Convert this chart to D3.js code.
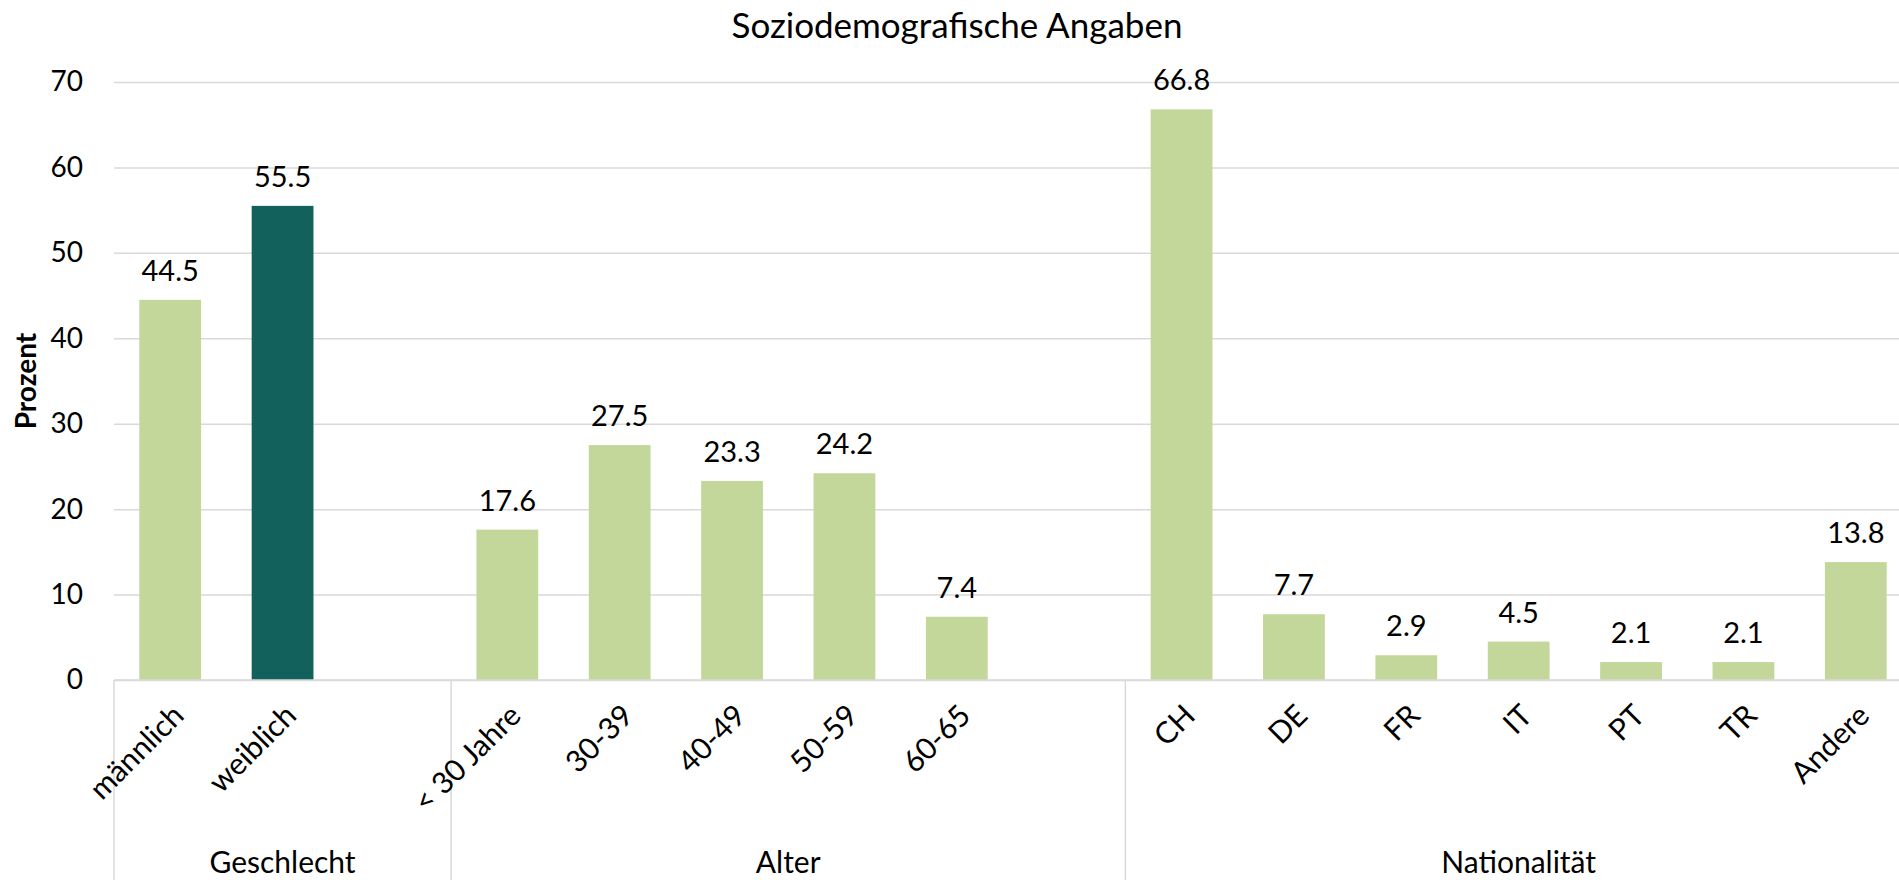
<!DOCTYPE html>
<html>
<head>
<meta charset="utf-8">
<script src="https://cdn.jsdelivr.net/npm/d3@7"></script>
<style>
  html, body { margin: 0; padding: 0; background: #ffffff; }
  svg { display: block; font-family: Lato, "Open Sans", sans-serif; }
</style>
</head>
<body>
<svg id="chart" width="1899" height="880"></svg>
<script>
// ---- data ----
const chartTitle = "Soziodemografische Angaben";
const yAxisTitle = "Prozent";
const categories = ["männlich", "weiblich", "", "< 30 Jahre", "30-39", "40-49", "50-59", "60-65", "", "CH", "DE", "FR", "IT", "PT", "TR", "Andere"];
const values = [44.5, 55.5, null, 17.6, 27.5, 23.3, 24.2, 7.4, null, 66.8, 7.7, 2.9, 4.5, 2.1, 2.1, 13.8];
const groupNames = ["Geschlecht", "Alter", "Nationalität"];
const groupSizes = [3, 6, 7];
const yTicks = [0, 10, 20, 30, 40, 50, 60, 70];
const highlighted = ["weiblich"];

// ---- style ----
const colLight = "#c4d79b";
const colDark = "#13615c";
const gridCol = "#d9d9d9";

const svg = d3.select("#chart");
const mLeft = 114, mRight = 1912, mTop = 82, mBottom = 680;

const x = d3.scaleBand()
  .domain(d3.range(categories.length))
  .range([mLeft, mRight])
  .paddingInner(0.45)
  .paddingOuter(0.225);

const y = d3.scaleLinear().domain([0, 70]).range([mBottom, mTop]);

// gridlines
const grid = svg.append("g")
  .attr("transform", `translate(${mLeft},0)`)
  .call(d3.axisLeft(y).tickValues(yTicks).tickSize(-(mRight - mLeft)).tickFormat(""));
grid.select(".domain").remove();
grid.selectAll(".tick line").attr("stroke", gridCol).attr("stroke-width", 1.5);

// y tick labels
const yAx = svg.append("g")
  .attr("transform", `translate(${mLeft},0)`)
  .call(d3.axisLeft(y).tickValues(yTicks).tickSize(0).tickPadding(31).tickFormat(d3.format("d")));
yAx.select(".domain").remove();
yAx.selectAll("text")
  .attr("font-family", "Lato, sans-serif")
  .attr("font-size", 28)
  .attr("fill", "#000")
  .attr("dy", "0.32em");

// bars
const idx = d3.range(categories.length).filter(i => values[i] !== null);
svg.append("g").selectAll("rect")
  .data(idx)
  .join("rect")
  .attr("x", i => x(i))
  .attr("width", x.bandwidth())
  .attr("y", i => y(values[i]))
  .attr("height", i => y(0) - y(values[i]))
  .attr("fill", i => highlighted.includes(categories[i]) ? colDark : colLight);

// data labels
svg.append("g").selectAll("text")
  .data(idx)
  .join("text")
  .attr("x", i => x(i) + x.bandwidth() / 2)
  .attr("y", i => y(values[i]) - 19)
  .attr("text-anchor", "middle")
  .attr("font-size", 29)
  .attr("fill", "#000")
  .text(i => d3.format(".1f")(values[i]));

// x axis baseline
svg.append("line")
  .attr("x1", mLeft).attr("x2", mRight)
  .attr("y1", mBottom).attr("y2", mBottom)
  .attr("stroke", gridCol).attr("stroke-width", 1.5);

// group dividers
let cum = 0;
const bounds = [0];
groupSizes.forEach(s => { cum += s; bounds.push(cum); });
const step = x.step();
svg.append("g").selectAll("line")
  .data(bounds)
  .join("line")
  .attr("x1", b => mLeft + b * step)
  .attr("x2", b => mLeft + b * step)
  .attr("y1", mBottom)
  .attr("y2", 880)
  .attr("stroke", gridCol)
  .attr("stroke-width", 1.5);

// category labels
svg.append("g").selectAll("text")
  .data(d3.range(categories.length).filter(i => categories[i] !== ""))
  .join("text")
  .attr("transform", i => `translate(${x(i) + x.bandwidth() / 2 + 8},${mBottom + 30}) rotate(-45)`)
  .attr("text-anchor", "end")
  .attr("dy", "0.35em")
  .attr("font-size", 30)
  .attr("fill", "#000")
  .text(i => categories[i]);

// group labels
svg.append("g").selectAll("text")
  .data(groupNames)
  .join("text")
  .attr("x", (g, k) => mLeft + (bounds[k] + bounds[k + 1]) / 2 * step)
  .attr("y", 873)
  .attr("text-anchor", "middle")
  .attr("font-size", 30)
  .attr("fill", "#000")
  .text(g => g);

// y axis title
svg.append("text")
  .attr("transform", `translate(36,381) rotate(-90)`)
  .attr("text-anchor", "middle")
  .attr("font-size", 28)
  .attr("font-weight", "bold")
  .attr("fill", "#000")
  .text(yAxisTitle);

// chart title
svg.append("text")
  .attr("x", 957)
  .attr("y", 38)
  .attr("text-anchor", "middle")
  .attr("font-size", 35)
  .attr("fill", "#000")
  .text(chartTitle);
</script>
</body>
</html>
